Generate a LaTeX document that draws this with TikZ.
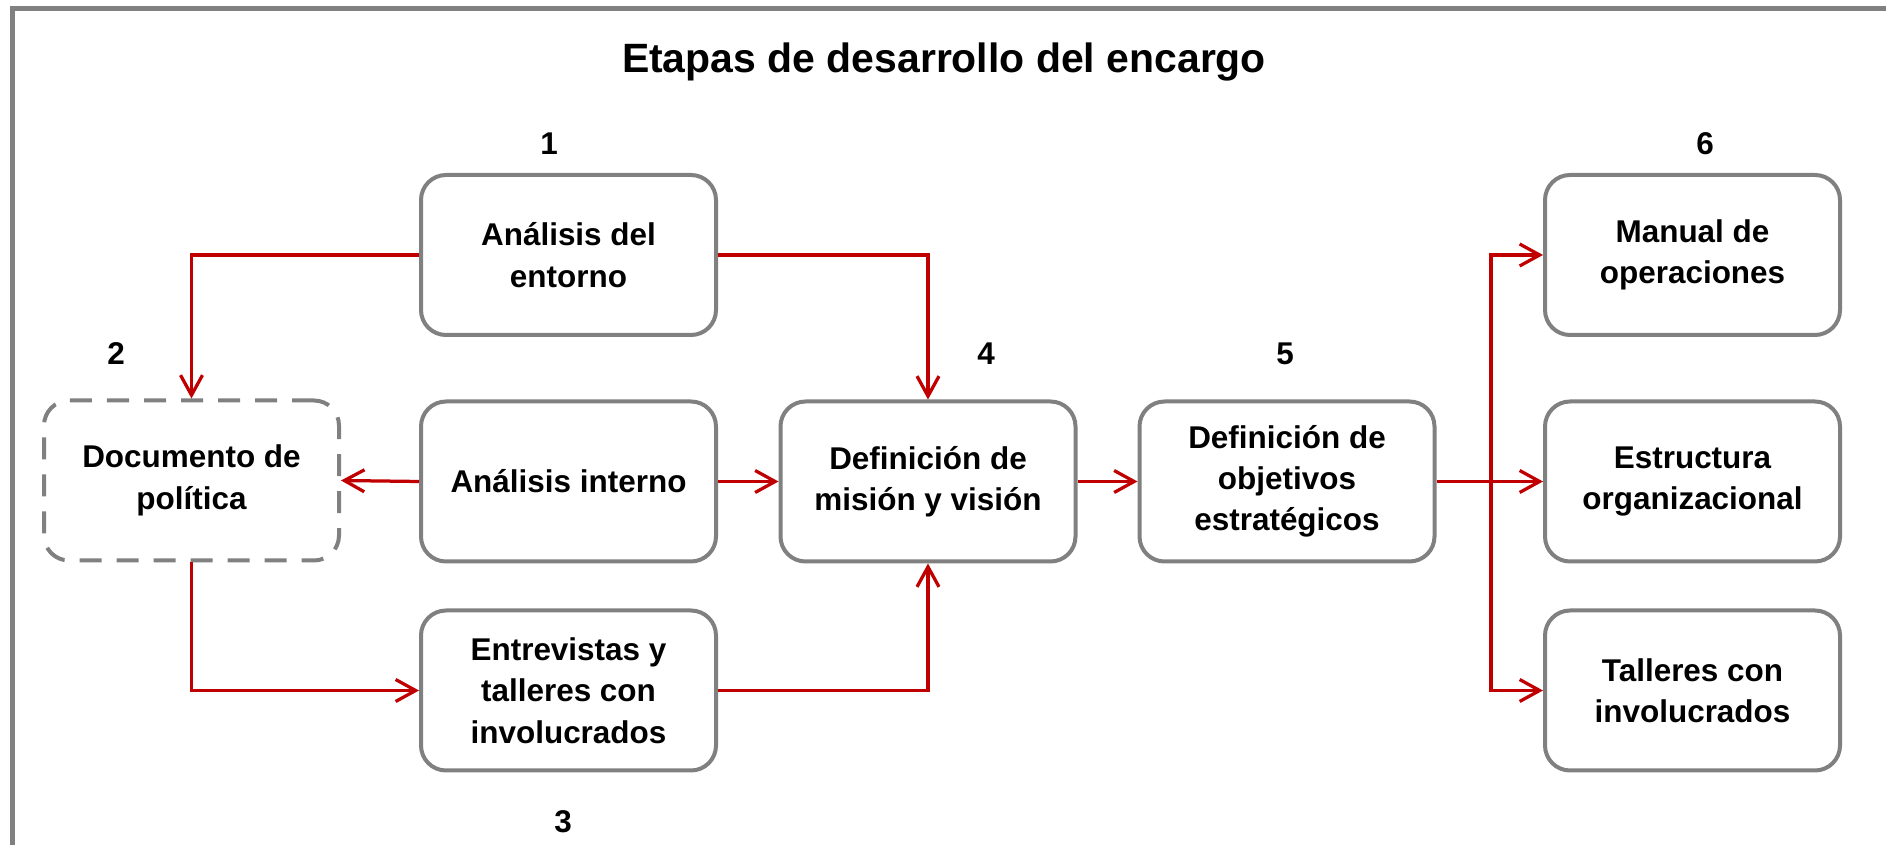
\documentclass[tikz,border=0pt]{standalone}
\usepackage{fontspec}
\setmainfont{Liberation Sans}
\usetikzlibrary{positioning, arrows.meta}
\definecolor{boxgray}{HTML}{808080}
\definecolor{linkred}{HTML}{C00000}

\begin{document}
\begin{tikzpicture}[
  box/.style={draw=boxgray, line width=0.08cm, rounded corners=0.5cm, fill=white,
    minimum width=5.9cm, minimum height=3.2cm, align=center,
    font=\fontsize{17.9}{23.5}\selectfont\bfseries},
  dashbox/.style={box, dash pattern=on 0.44cm off 0.3cm},
  stagenum/.style={font=\fontsize{17.9}{22}\selectfont\bfseries},
  link/.style={draw=linkred, line width=0.065cm,
    -{Straight Barb[length=4mm,width=4.4mm]}}
]
  \useasboundingbox (0,0) rectangle (37.72,-16.9);
  % Outer frame
  \draw[boxgray, line width=0.1cm] (0.25,-17.5) |- (37.78,-0.17) -- (37.78,-17.5);
  % Title
  \node (title) at (18.88,-1.25) {\fontsize{23.3}{28}\selectfont\bfseries Etapas de desarrollo del encargo};
  % Stage numbers
  \node[stagenum] (num1) at (10.98,-2.87) {1};
  \node[stagenum] (num2) at (2.32,-7.08) {2};
  \node[stagenum] (num3) at (11.26,-16.44) {3};
  \node[stagenum] (num4) at (19.72,-7.08) {4};
  \node[stagenum] (num5) at (25.70,-7.08) {5};
  \node[stagenum] (num6) at (34.10,-2.87) {6};
  % Boxes
  \node[box] (entorno) at (11.37,-5.10) {Análisis del\\entorno};
  \node[dashbox] (politica) at (3.83,-9.61) {Documento de\\política};
  \node[box] (interno) at (11.37,-9.63) {Análisis interno};
  \node[box] (entrevistas) at (11.37,-13.81) {Entrevistas y\\talleres con\\involucrados};
  \node[box] (mision) at (18.56,-9.63) {Definición de\\misión y visión};
  \node[box] (objetivos) at (25.74,-9.63) {Definición de\\objetivos\\estratégicos};
  \node[box] (manual) at (33.85,-5.10) {Manual de\\operaciones};
  \node[box] (estructura) at (33.85,-9.63) {Estructura\\organizacional};
  \node[box] (talleres) at (33.85,-13.81) {Talleres con\\involucrados};
  % Connectors
  \draw[link] (entorno.west) -| (politica.north);
  \draw[link] (entorno.east) -| (mision.north);
  \draw[link] (interno.west) -- (politica.east);
  \draw[link] (interno.east) -- (mision.west);
  \draw[link] (politica.south) |- (entrevistas.west);
  \draw[link] (entrevistas.east) -| (mision.south);
  \draw[link] (mision.east) -- (objetivos.west);
  \coordinate (split) at (29.82,-9.63);
  \draw[link] (objetivos.east) -- (estructura.west);
  \draw[link] (split) |- (manual.west);
  \draw[link] (split) |- (talleres.west);
\end{tikzpicture}
\end{document}
